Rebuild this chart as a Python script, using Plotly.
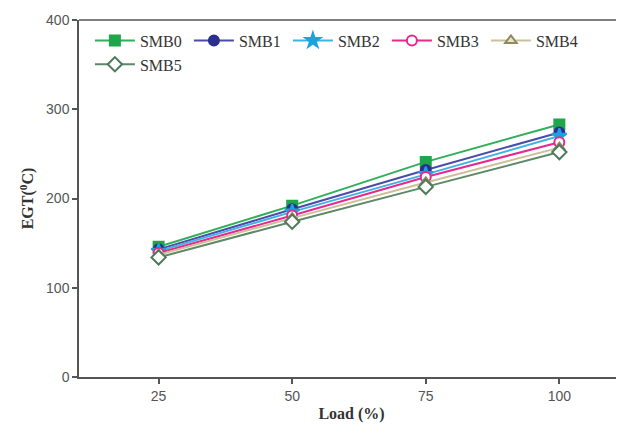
import plotly.graph_objects as go

load = [25, 50, 75, 100]
names = ["SMB0", "SMB1", "SMB2", "SMB3", "SMB4", "SMB5"]
smb0 = [146, 192, 241, 283]
smb1 = [143, 188, 232, 274]
smb2 = [141, 185, 227, 270]
smb3 = [139, 181, 224, 263]
smb4 = [137, 178, 218, 257]
smb5 = [134, 174, 213, 252]
series = [smb0, smb1, smb2, smb3, smb4, smb5]

line_colors = ["#2fb05a", "#4b4ba8", "#3fb2e6", "#e8288f", "#cdbf98", "#5c8a68"]
marker_colors = ["#1fa64a", "#2b2f8f", "#1aa3e0", "#e8288f", "#8f8a5a", "#4d7a58"]
marker_fill = ["#1fa64a", "#2b2f8f", "#1aa3e0", "#ffffff", "#e8e4c8", "#ffffff"]
symbols = ["square", "circle", "star", "circle", "triangle-up", "diamond"]
sizes = [10, 10, 11, 10, 10, 11]

fig = go.Figure()
for i, (n, ys) in enumerate(zip(names, series)):
    fig.add_trace(go.Scatter(
        x=load, y=ys, name=n, mode="lines+markers",
        line=dict(color=line_colors[i], width=2),
        marker=dict(symbol=symbols[i], size=sizes[i], color=marker_fill[i],
                    line=dict(color=marker_colors[i], width=2)),
    ))

fig.update_layout(
    width=616, height=419,
    margin=dict(l=71, r=0, t=12, b=50),
    paper_bgcolor="white", plot_bgcolor="white",
    showlegend=True,
    legend=dict(orientation="h", x=0.02, y=0.99, xanchor="left", yanchor="top",
                font=dict(family="Liberation Serif", size=16, color="#333"),
                bgcolor="rgba(0,0,0,0)", entrywidth=44, entrywidthmode="pixels",
                tracegroupgap=0, itemwidth=40),
    xaxis=dict(range=[10.1, 112.1], tickvals=load, ticks="outside", ticklen=5,
               tickwidth=1.5, tickcolor="#555", showline=True, linecolor="#555",
               linewidth=1.5, mirror=False, showgrid=False, zeroline=False,
               tickfont=dict(family="Liberation Sans", size=14, color="#555"),
               title=dict(text="<b>Load (%)</b>", standoff=5,
                          font=dict(family="Liberation Serif", size=16, color="#333"))),
    yaxis=dict(range=[0, 400], tickvals=[0, 100, 200, 300, 400], ticks="outside",
               ticklen=5, tickwidth=1.5, tickcolor="#555", showline=True,
               linecolor="#555", linewidth=1.5, showgrid=False, zeroline=False,
               tickfont=dict(family="Liberation Sans", size=14, color="#555"),
               title=dict(text="<b>EGT(<sup>0</sup>C)</b>", standoff=8,
                          font=dict(family="Liberation Serif", size=16, color="#333"))),
)
fig.add_shape(type="line", xref="paper", yref="paper", x0=0, x1=1, y0=1, y1=1,
              line=dict(color="#555", width=1.5))
fig.write_html("out.html")
